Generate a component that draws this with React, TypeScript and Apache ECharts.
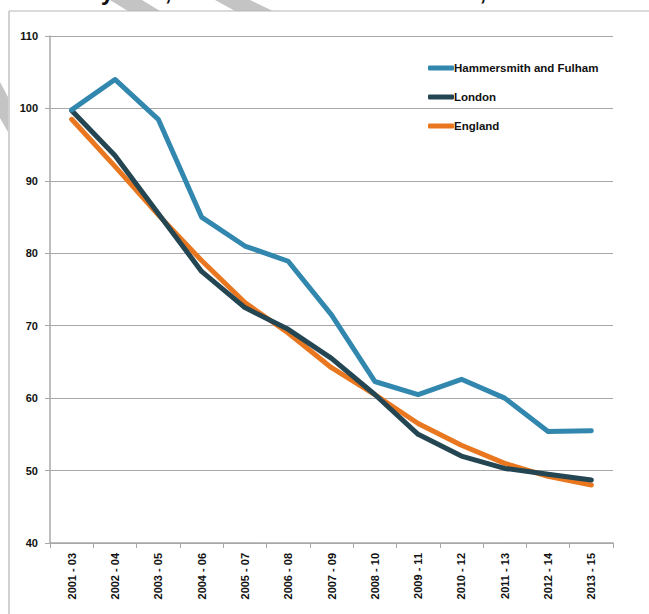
import React, { useEffect, useRef } from "react";
import * as echarts from "echarts";

const categories = [
  "2001 - 03", "2002 - 04", "2003 - 05", "2004 - 06", "2005 - 07", "2006 - 08", "2007 - 09",
  "2008 - 10", "2009 - 11", "2010 - 12", "2011 - 13", "2012 - 14", "2013 - 15",
];
const hammersmith = [99.8, 104.0, 98.5, 85.0, 81.0, 78.9, 71.5, 62.3, 60.5, 62.6, 60.0, 55.4, 55.5];
const london = [99.7, 93.5, 85.5, 77.5, 72.5, 69.5, 65.5, 60.5, 55.0, 52.0, 50.3, 49.5, 48.7];
const england = [98.5, 92.0, 85.3, 79.0, 73.2, 69.0, 64.2, 60.5, 56.5, 53.5, 51.0, 49.2, 48.0];
const seriesNames = ["Hammersmith and Fulham", "London", "England"];
const titleText = "Mortality rate, Hammersmith and Fulham, London and England 2001 - 2015";

export default function App() {
  const ref = useRef<HTMLDivElement>(null);
  useEffect(() => {
    if (!ref.current) return;
    const chart = echarts.init(ref.current, null, { renderer: "svg" });
    const font = "Liberation Sans, Arial, sans-serif";
    const colors = ["#3287AE", "#244652", "#E9771F"];
    const data = [hammersmith, london, england];
    chart.setOption({
      animation: false,
      backgroundColor: "#ffffff",
      textStyle: { fontFamily: font },
      grid: { left: 50, right: 36, top: 36, bottom: 71 },
      legend: {
        orient: "vertical",
        left: 428,
        top: 62,
        padding: 0,
        itemGap: 17,
        itemWidth: 26,
        itemHeight: 5,
        icon: "roundRect",
        data: seriesNames,
        textStyle: { fontFamily: font, fontWeight: "bold", fontSize: 11.5, color: "#111", padding: [0, 0, 0, -5] },
      },
      xAxis: {
        type: "category",
        data: categories,
        boundaryGap: true,
        axisLine: { lineStyle: { color: "#a8a8a8", width: 1.5 } },
        axisTick: { show: true, length: 5, lineStyle: { color: "#a8a8a8" } },
        axisLabel: { rotate: 90, margin: 10, fontSize: 11, fontWeight: "bold", color: "#111", fontFamily: font },
      },
      yAxis: {
        type: "value",
        min: 40,
        max: 110,
        interval: 10,
        axisLine: { show: true, lineStyle: { color: "#a8a8a8", width: 1.5 } },
        axisTick: { show: true, length: 5, lineStyle: { color: "#a8a8a8" } },
        axisLabel: { margin: 12, fontSize: 11, fontWeight: "bold", color: "#111", fontFamily: font },
        splitLine: { lineStyle: { color: "#a8a8a8", width: 1 } },
      },
      series: seriesNames.map((name, i) => ({
        name,
        type: "line",
        data: data[i],
        symbol: "none",
        lineStyle: { width: 5, color: colors[i], cap: "round", join: "round" },
        itemStyle: { color: colors[i] },
        z: 3 - i,
      })),
      graphic: [
        {
          type: "text",
          x: 14,
          y: 3,
          style: { text: titleText, font: "bold 24px Liberation Sans, Arial, sans-serif", fill: "#111", verticalAlign: "bottom" },
          silent: true,
        },
        { type: "rect", shape: { x: 0, y: 0, width: 10, height: 614 }, style: { fill: "#ffffff" }, silent: true },
        { type: "polygon", shape: { points: [[110, 0], [142, 0], [160, 11], [128, 11]] }, style: { fill: "#c4c4c4" }, silent: true },
        { type: "polygon", shape: { points: [[215, 0], [250, 0], [273, 11], [235, 11]] }, style: { fill: "#c4c4c4" }, silent: true },
        { type: "polygon", shape: { points: [[0, 82], [8, 97], [8, 132], [0, 118]] }, style: { fill: "#c4c4c4" }, silent: true },
        { type: "line", shape: { x1: 9, y1: 11, x2: 649, y2: 11 }, style: { stroke: "#b5b5b5", lineWidth: 1.2 }, silent: true },
        { type: "line", shape: { x1: 9, y1: 11, x2: 9, y2: 614 }, style: { stroke: "#b5b5b5", lineWidth: 1.2 }, silent: true },
      ],
    });
    return () => chart.dispose();
  }, []);
  return <div ref={ref} style={{ width: 649, height: 614, position: "absolute", left: 0, top: 0 }} />;
}
